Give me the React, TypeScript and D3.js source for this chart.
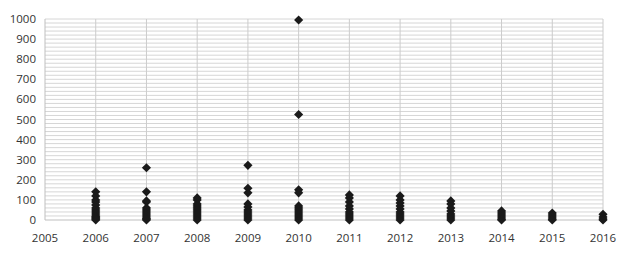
import React, { useEffect, useRef } from "react";
import * as d3 from "d3";

// values per year
const years = [2006, 2007, 2008, 2009, 2010, 2011, 2012, 2013, 2014, 2015, 2016];
const v2006 = [140, 120, 100, 90, 75, 60, 50, 40, 30, 20, 15, 10, 5, 0];
const v2007 = [260, 140, 95, 90, 60, 50, 40, 30, 20, 10, 5, 0];
const v2008 = [110, 100, 80, 70, 60, 50, 40, 30, 20, 10, 0];
const v2009 = [272, 158, 135, 80, 65, 50, 40, 30, 20, 10, 0];
const v2010 = [995, 525, 150, 135, 70, 60, 50, 40, 30, 20, 10, 0];
const v2011 = [125, 110, 90, 70, 55, 40, 30, 20, 10, 0];
const v2012 = [120, 100, 85, 70, 55, 40, 30, 20, 10, 0];
const v2013 = [95, 80, 60, 45, 30, 20, 10, 0];
const v2014 = [45, 35, 25, 15, 5, 0];
const v2015 = [35, 25, 15, 5, 0];
const v2016 = [28, 15, 5, 0];
const series = [v2006, v2007, v2008, v2009, v2010, v2011, v2012, v2013, v2014, v2015, v2016];
const xTicks = [2005, 2006, 2007, 2008, 2009, 2010, 2011, 2012, 2013, 2014, 2015, 2016];
const yTicks = [0, 100, 200, 300, 400, 500, 600, 700, 800, 900, 1000];

export default function App() {
  const ref = useRef<SVGSVGElement>(null);

  useEffect(() => {
    const svg = d3.select(ref.current);
    svg.selectAll("*").remove();
    const x = d3.scaleLinear().domain([2005, 2016]).range([45, 603]);
    const y = d3.scaleLinear().domain([0, 1000]).range([220, 19]);

    const grid = svg.append("g");
    grid.selectAll("line.h").data(d3.range(20, 1001, 20)).enter().append("line")
      .attr("x1", 45).attr("x2", 603)
      .attr("y1", d => y(d)).attr("y2", d => y(d))
      .attr("stroke", "#d6d6d6").attr("stroke-width", 1);
    grid.selectAll("line.v").data(years).enter().append("line")
      .attr("x1", d => x(d)).attr("x2", d => x(d))
      .attr("y1", y(0)).attr("y2", y(1000))
      .attr("stroke", "#cccccc").attr("stroke-width", 1);

    // axis lines
    svg.append("line").attr("x1", 45).attr("x2", 45).attr("y1", y(0)).attr("y2", y(1000))
      .attr("stroke", "#bfbfbf");
    svg.append("line").attr("x1", 45).attr("x2", 603).attr("y1", y(0)).attr("y2", y(0))
      .attr("stroke", "#bfbfbf");

    const font = "'Open Sans', 'Noto Sans', sans-serif";
    svg.append("g").selectAll("text").data(yTicks).enter().append("text")
      .attr("x", 36).attr("y", d => y(d)).attr("dy", "0.35em")
      .attr("text-anchor", "end").attr("font-family", font).attr("font-size", 11.5)
      .attr("fill", "#333").text(d => d);
    svg.append("g").selectAll("text").data(xTicks).enter().append("text")
      .attr("x", d => x(d)).attr("y", 242)
      .attr("text-anchor", "middle").attr("font-family", font).attr("font-size", 11.5)
      .attr("fill", "#333").text(d => d);

    const pts = series.flatMap((vals, i) => vals.map(v => ({ year: years[i], v })));
    const sym = d3.symbol().type(d3.symbolSquare).size(42);
    svg.append("g").selectAll("path").data(pts).enter().append("path")
      .attr("d", sym)
      .attr("transform", d => `translate(${x(d.year)},${y(d.v)}) rotate(45)`)
      .attr("fill", "#1a1a1a");
  }, []);

  return (
    <svg ref={ref} width={624} height={255}
      style={{ position: "absolute", left: 0, top: 0, background: "#fff" }} />
  );
}
